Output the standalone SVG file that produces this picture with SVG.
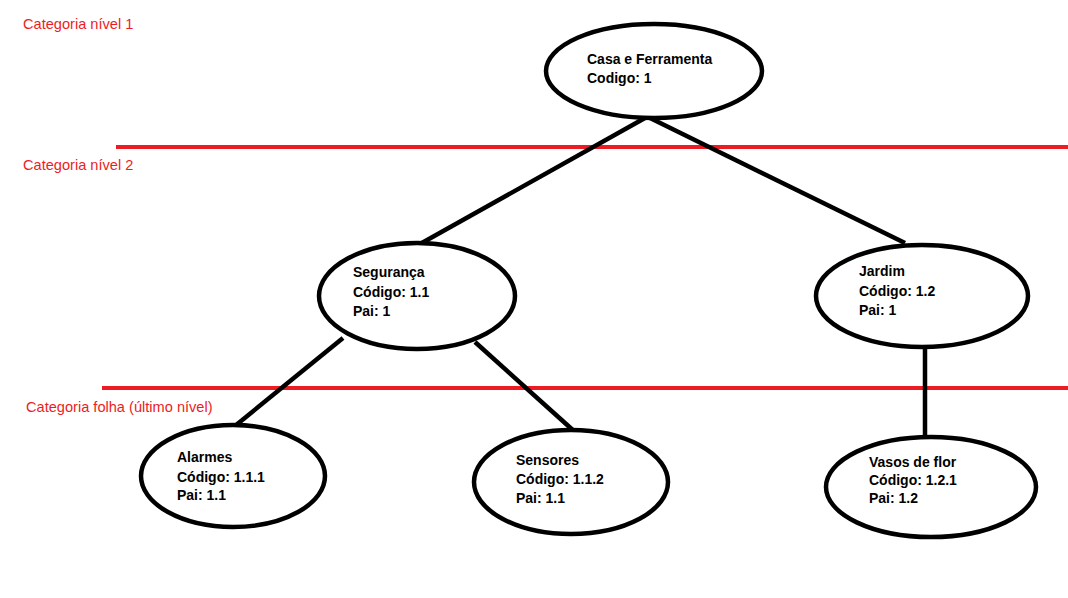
<svg xmlns="http://www.w3.org/2000/svg" width="1068" height="598" viewBox="0 0 1068 598">
<style>
.node{fill:#fff;stroke:#000;stroke-width:4.5}
.edge{stroke:#000;stroke-width:4.5;fill:none}
.sep{stroke:#ed1c24;stroke-width:4;fill:none}
.lbl{font-family:"Liberation Sans",Arial,sans-serif;font-size:14.6px;fill:#ed1c24}
.t{font-family:"Liberation Sans",Arial,sans-serif;font-size:14px;font-weight:bold;fill:#000}
</style>
<rect width="1068" height="598" fill="#fff"/>
<g id="levels">
<line class="sep" x1="116" y1="147" x2="1068" y2="147"/>
<line class="sep" x1="102" y1="388" x2="1068" y2="388"/>
<text class="lbl" x="23" y="29">Categoria nível 1</text>
<text class="lbl" x="23" y="170">Categoria nível 2</text>
<text class="lbl" x="26" y="412">Categoria folha (último nível)</text>
</g>
<g id="connectors">
<line class="edge" x1="645" y1="118" x2="420" y2="244"/>
<line class="edge" x1="650" y1="118" x2="905" y2="243"/>
<line class="edge" x1="343" y1="338" x2="230" y2="430"/>
<line class="edge" x1="475" y1="342" x2="575" y2="432"/>
<line class="edge" x1="925" y1="347" x2="925" y2="439"/>
</g>
<g id="casa">
<ellipse class="node" cx="654" cy="71" rx="108" ry="47"/>
<text class="t" x="587" y="64">Casa e Ferramenta</text>
<text class="t" x="587" y="83">Codigo: 1</text>
</g>
<g id="seguranca">
<ellipse class="node" cx="417" cy="296" rx="98" ry="53"/>
<text class="t" x="353" y="277">Segurança</text>
<text class="t" x="353" y="297">Código: 1.1</text>
<text class="t" x="353" y="316">Pai: 1</text>
</g>
<g id="jardim">
<ellipse class="node" cx="922" cy="296" rx="106" ry="51"/>
<text class="t" x="859" y="276">Jardim</text>
<text class="t" x="859" y="296">Código: 1.2</text>
<text class="t" x="859" y="315">Pai: 1</text>
</g>
<g id="alarmes">
<ellipse class="node" cx="233" cy="476" rx="92" ry="51"/>
<text class="t" x="177" y="462">Alarmes</text>
<text class="t" x="177" y="482">Código: 1.1.1</text>
<text class="t" x="177" y="500">Pai: 1.1</text>
</g>
<g id="sensores">
<ellipse class="node" cx="571" cy="482" rx="97" ry="52"/>
<text class="t" x="516" y="465">Sensores</text>
<text class="t" x="516" y="484">Código: 1.1.2</text>
<text class="t" x="516" y="503">Pai: 1.1</text>
</g>
<g id="vasos">
<ellipse class="node" cx="931" cy="487" rx="105" ry="50"/>
<text class="t" x="869" y="467">Vasos de flor</text>
<text class="t" x="869" y="485">Código: 1.2.1</text>
<text class="t" x="869" y="503">Pai: 1.2</text>
</g>
</svg>
